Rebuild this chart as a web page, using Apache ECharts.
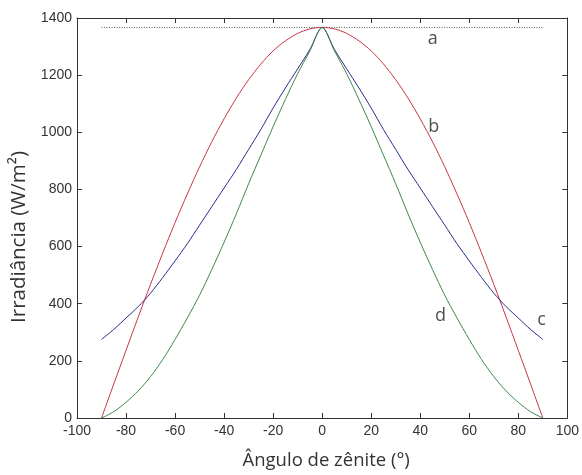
<!DOCTYPE html>
<html>
<head>
<meta charset="utf-8">
<script src="https://cdn.jsdelivr.net/npm/echarts@6/dist/echarts.min.js"></script>
<style>html,body{margin:0;padding:0;background:#fff}#c{width:582px;height:475px}</style>
</head>
<body>
<div id="c"></div>
<script>
// zenith angle (degrees)
const angles = [-90,-85,-80,-75,-70,-65,-60,-55,-50,-45,-40,-35,-30,-25,-20,-15,-10,-5,0,5,10,15,20,25,30,35,40,45,50,55,60,65,70,75,80,85,90];
// curve a: extraterrestrial constant
const seriesA = [1367,1367,1367,1367,1367,1367,1367,1367,1367,1367,1367,1367,1367,1367,1367,1367,1367,1367,1367,1367,1367,1367,1367,1367,1367,1367,1367,1367,1367,1367,1367,1367,1367,1367,1367,1367,1367];
// curve b (red)
const seriesB = [0,119,237,354,468,578,684,784,879,967,1047,1120,1184,1239,1285,1320,1346,1362,1367,1362,1346,1320,1285,1239,1184,1120,1047,967,879,784,684,578,468,354,237,119,0];
// curve c (blue)
const seriesC = [275,310,350,390,437,492,550,610,675,740,805,870,940,1010,1085,1155,1222,1290,1367,1290,1222,1155,1085,1010,940,870,805,740,675,610,550,492,437,390,350,310,275];
// curve d (green)
const seriesD = [0,22,55,95,145,205,275,350,430,520,615,715,820,920,1020,1115,1205,1285,1367,1285,1205,1115,1020,920,820,715,615,520,430,350,275,205,145,95,55,22,0];
// curve labels
const labelTexts = ['a','b','c','d'];
const labelX = [45.1,45.5,89.5,48.3];
const labelY = [1327,1018,343,358];
// axis ticks
const xTicks = {min:-100, max:100, step:20};
const yTicks = {min:0, max:1400, step:200};

const pair = arr => angles.map((a,i)=>[a,arr[i]]);
const tickFont = {fontFamily:'Liberation Sans', fontSize:14, color:'#333', formatter:v=>String(v)};
const axisLine = {show:true, onZero:false, lineStyle:{color:'#333', width:1}};
const axisTick = {show:true, inside:true, length:5, lineStyle:{color:'#333', width:1}};

const chart = echarts.init(document.getElementById('c'), null, {renderer:'canvas'});
chart.setOption({
  animation:false,
  backgroundColor:'#fff',
  grid:{left:77, right:10, top:18, bottom:53, containLabel:false},
  xAxis:[{
    type:'value', position:'bottom', min:xTicks.min, max:xTicks.max, interval:xTicks.step,
    axisLine, axisTick, splitLine:{show:false},
    axisLabel:Object.assign({margin:6}, tickFont),
    name:'Ângulo de zênite (°)', nameLocation:'middle', nameGap:33,
    nameTextStyle:{fontFamily:'Open Sans', fontSize:18.5, color:'#333', padding:[0,0,0,8]}
  },{
    type:'value', position:'top', min:xTicks.min, max:xTicks.max, interval:xTicks.step,
    axisLine, axisTick, axisLabel:{show:false}, splitLine:{show:false}
  }],
  yAxis:[{
    type:'value', position:'left', min:yTicks.min, max:yTicks.max, interval:yTicks.step,
    axisLine, axisTick, splitLine:{show:false},
    axisLabel:Object.assign({margin:5}, tickFont),
    name:'Irradiância (W/m²)', nameLocation:'middle', nameGap:43,
    nameTextStyle:{fontFamily:'Open Sans', fontSize:20.5, color:'#333', padding:[0,38,0,0]}
  },{
    type:'value', position:'right', min:yTicks.min, max:yTicks.max, interval:yTicks.step,
    axisLine, axisTick, axisLabel:{show:false}, splitLine:{show:false}
  }],
  series:[
    {name:'a', type:'line', data:pair(seriesA), showSymbol:false, silent:true,
     lineStyle:{color:'#555', width:1, type:[1,1.5]}},
    {name:'b', type:'line', data:pair(seriesB), showSymbol:false, smooth:0.3, silent:true,
     lineStyle:{color:'#cc3344', width:1}},
    {name:'c', type:'line', data:pair(seriesC), showSymbol:false, smooth:0.3, silent:true,
     lineStyle:{color:'#2a2a88', width:1}},
    {name:'d', type:'line', data:pair(seriesD), showSymbol:false, smooth:0.3, silent:true,
     lineStyle:{color:'#3a8a4a', width:1}},
    {name:'labels', type:'scatter', symbolSize:0, silent:true,
     data:labelTexts.map((t,i)=>({value:[labelX[i],labelY[i]], name:t})),
     label:{show:true, position:'inside', formatter:p=>p.name,
            fontFamily:'Open Sans', fontSize:18, color:'#222'}}
  ]
});
</script>
</body>
</html>
